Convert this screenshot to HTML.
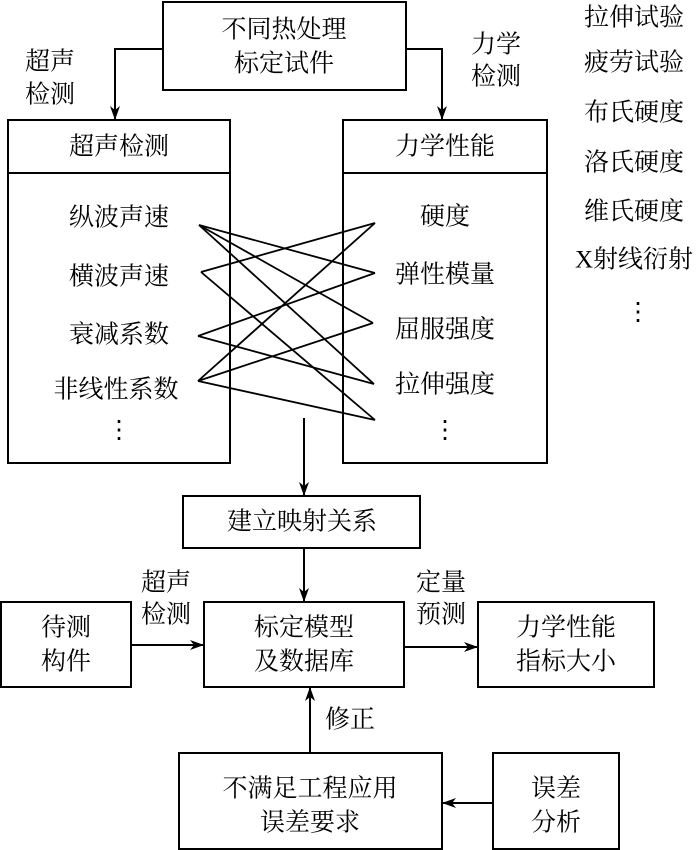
<!DOCTYPE html>
<html><head><meta charset="utf-8"><style>
html,body{margin:0;padding:0;background:#fff;}
svg{display:block;}
text{font-family:"Liberation Serif","Noto Serif CJK SC","Noto Serif CJK JP","Noto Serif CJK TC",serif;font-size:25px;fill:#000;text-anchor:middle;dominant-baseline:central;}
</style></head><body>
<svg width="700" height="850" viewBox="0 0 700 850" xmlns="http://www.w3.org/2000/svg">
<defs><marker id="a" markerWidth="14" markerHeight="10" refX="13" refY="5" orient="auto" markerUnits="userSpaceOnUse"><path d="M0,0 L14,5 L0,10 L4,5 Z" fill="#000"/></marker></defs>
<g fill="none" stroke="#000" stroke-width="2">
<rect x="163" y="2" width="243" height="88"/>
<polyline points="163,49 115,49 115,119" marker-end="url(#a)"/>
<polyline points="406,49 442,49 442,119" marker-end="url(#a)"/>
<rect x="8" y="120" width="222" height="343"/>
<line x1="8" y1="173" x2="230" y2="173"/>
<rect x="343" y="120" width="204" height="343"/>
<line x1="343" y1="173" x2="547" y2="173"/>
<g stroke-width="1.8">
<line x1="199" y1="225" x2="375" y2="273"/>
<line x1="199" y1="225" x2="373" y2="323"/>
<line x1="199" y1="225" x2="374" y2="384"/>
<line x1="201" y1="272" x2="375" y2="223"/>
<line x1="201" y1="272" x2="375" y2="420"/>
<line x1="198" y1="336" x2="375" y2="273"/>
<line x1="198" y1="336" x2="374" y2="384"/>
<line x1="198" y1="381" x2="375" y2="223"/>
<line x1="198" y1="381" x2="373" y2="323"/>
<line x1="198" y1="381" x2="375" y2="420"/>
</g>
<line x1="304" y1="418" x2="304" y2="495" marker-end="url(#a)"/>
<rect x="183" y="496" width="237" height="52"/>
<line x1="304" y1="548" x2="304" y2="601" marker-end="url(#a)"/>
<rect x="204" y="602" width="200" height="85"/>
<rect x="1" y="602" width="130" height="85"/>
<line x1="131" y1="645" x2="203" y2="645" marker-end="url(#a)"/>
<rect x="478" y="602" width="176" height="85"/>
<line x1="404" y1="647" x2="477" y2="647" marker-end="url(#a)"/>
<rect x="179" y="753" width="263" height="96"/>
<line x1="310" y1="753" x2="310" y2="688" marker-end="url(#a)"/>
<rect x="493" y="753" width="126" height="96"/>
<line x1="493" y1="803" x2="443" y2="803" marker-end="url(#a)"/>
</g>
<text x="284" y="30">不同热处理</text>
<text x="284" y="64">标定试件</text>
<text x="50" y="62">超声</text>
<text x="50" y="95">检测</text>
<text x="496" y="45">力学</text>
<text x="496" y="77">检测</text>
<text x="119" y="147">超声检测</text>
<text x="445" y="147">力学性能</text>
<text x="119" y="218">纵波声速</text>
<text x="119" y="277">横波声速</text>
<text x="119" y="335">衰减系数</text>
<text x="116" y="390">非线性系数</text>
<text x="119" y="430">⋮</text>
<text x="445" y="217">硬度</text>
<text x="445" y="275">弹性模量</text>
<text x="445" y="330">屈服强度</text>
<text x="445" y="385">拉伸强度</text>
<text x="445" y="430">⋮</text>
<text x="634" y="18">拉伸试验</text>
<text x="634" y="63">疲劳试验</text>
<text x="634" y="113">布氏硬度</text>
<text x="634" y="163">洛氏硬度</text>
<text x="634" y="212">维氏硬度</text>
<text x="634" y="260">X射线衍射</text>
<text x="638" y="312">⋮</text>
<text x="302" y="522">建立映射关系</text>
<text x="66" y="628">待测</text>
<text x="66" y="662">构件</text>
<text x="166" y="583">超声</text>
<text x="166" y="615">检测</text>
<text x="304" y="628">标定模型</text>
<text x="304" y="662">及数据库</text>
<text x="441" y="583">定量</text>
<text x="441" y="615">预测</text>
<text x="566" y="628">力学性能</text>
<text x="566" y="662">指标大小</text>
<text x="350" y="720">修正</text>
<text x="310" y="789">不满足工程应用</text>
<text x="310" y="823">误差要求</text>
<text x="556" y="789">误差</text>
<text x="556" y="823">分析</text>
</svg>
</body></html>
